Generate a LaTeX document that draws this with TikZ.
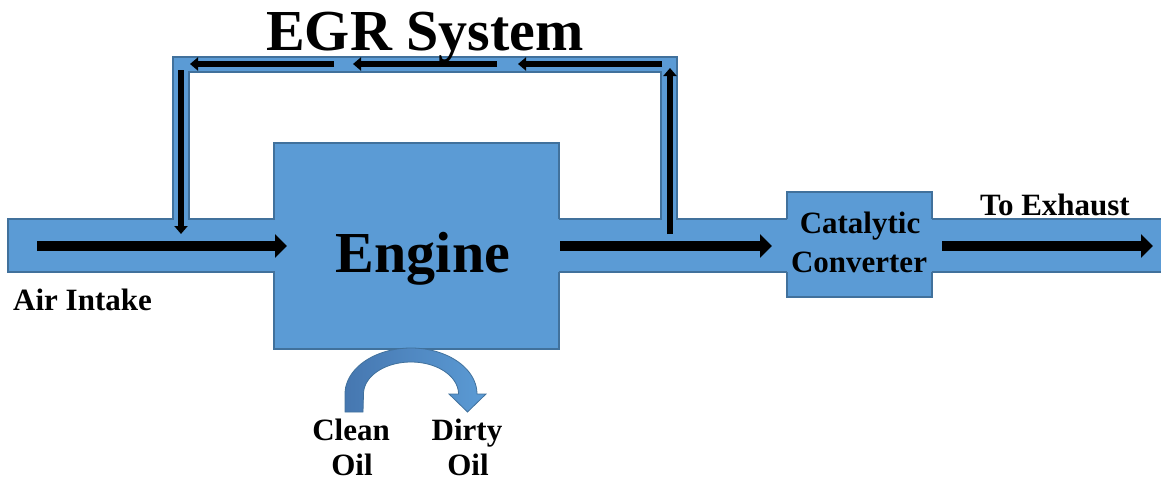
\documentclass[tikz,border=0pt]{standalone}
\usepackage{fontspec}
\setmainfont{Liberation Serif}
\usetikzlibrary{arrows.meta}
\definecolor{pipefill}{HTML}{5B9BD5}
\definecolor{pipeedge}{HTML}{41719C}
\definecolor{oildark}{HTML}{4677B0}
\tikzset{
  flowarrow/.style={line width=10pt, -{Triangle[length=12pt,width=23pt]}},
  egrarrow/.style={line width=6.5pt, -{Triangle[length=8pt,width=13pt]}},
  pipeedgeline/.style={draw=pipeedge, line width=1.6pt},
  boxstyle/.style={draw=pipeedge, line width=2pt, fill=pipefill, inner sep=0pt, outer sep=0pt},
  bigtxt/.style={font=\fontsize{58}{60}\selectfont\bfseries, inner sep=0pt, anchor=base},
  smalltxt/.style={font=\fontsize{31}{33}\selectfont\bfseries, inner sep=0pt, anchor=base},
}
\begin{document}
\begin{tikzpicture}[x=1pt,y=-1pt]
\useasboundingbox (0,0) rectangle (1161,480);
% boxes
\node[boxstyle, minimum width=285pt, minimum height=206pt] (engine) at (416.5,246) {};
\node[boxstyle, minimum width=145pt, minimum height=105pt] (catbox) at (859.5,244.5) {};
% intake pipe
\fill[pipefill] (8,219) rectangle (295,272);
\draw[pipeedgeline] (275,219) -- (8,219) -- (8,272) -- (275,272);
% exhaust pipe to catalytic converter
\fill[pipefill] (545,219) rectangle (797,272);
\draw[pipeedgeline] (559,219) -- (787,219);
\draw[pipeedgeline] (559,272) -- (787,272);
% tail pipe
\fill[pipefill] (924,219) rectangle (1161,272);
\draw[pipeedgeline] (932,219) -- (1161,219);
\draw[pipeedgeline] (932,272) -- (1161,272);
% EGR loop
\fill[pipefill] (173,221) -- (173,57) -- (677,57) -- (677,221) -- (661,221) -- (661,72) -- (189,72) -- (189,221) -- cycle;
\draw[pipeedgeline] (173,220) -- (173,57) -- (677,57) -- (677,220);
\draw[pipeedgeline] (661,220) -- (661,72) -- (189,72) -- (189,220);
% arrow end points
\coordinate (inA) at (37,246);   \coordinate (inB) at (287,246);
\coordinate (exA) at (560,246);  \coordinate (exB) at (772,246);
\coordinate (tlA) at (942,246);  \coordinate (tlB) at (1153,246);
\coordinate (lvA) at (181,70);   \coordinate (lvB) at (181,234);
\coordinate (rvA) at (670,234);  \coordinate (rvB) at (670,68);
\coordinate (h1A) at (334,64);   \coordinate (h1B) at (190,64);
\coordinate (h2A) at (497,64);   \coordinate (h2B) at (353,64);
\coordinate (h3A) at (662,64);   \coordinate (h3B) at (518,64);
\draw[flowarrow] (inA) -- (inB);
\draw[flowarrow] (exA) -- (exB);
\draw[flowarrow] (tlA) -- (tlB);
\draw[egrarrow] (lvA) -- (lvB);
\draw[egrarrow] (rvA) -- (rvB);
\draw[egrarrow] (h1A) -- (h1B);
\draw[egrarrow] (h2A) -- (h2B);
\draw[egrarrow] (h3A) -- (h3B);
% oil curved arrow
\shade[left color=oildark, right color=pipefill, draw=pipeedge, line width=0.8pt]
  (345,412) -- (345,394)
  -- plot[domain=180:0, samples=72] ({411+66*cos(\x)},{394-46*sin(\x)})
  -- (486,394) -- (467.5,412) -- (449,394)
  -- plot[domain=0:180, samples=72] ({411+47.5*cos(\x)},{394-32*sin(\x)})
  -- (363,412) -- cycle;
% texts
\node[bigtxt] (egrtitle) at (425,50) {EGR System};
\node[bigtxt] (engtxt) at (423,272) {Engine};
\node[smalltxt, anchor=base west] (air) at (13,310) {Air Intake};
\node[smalltxt] (exh) at (1055,215) {To Exhaust};
\node[smalltxt] (cat1) at (860,233) {Catalytic};
\node[smalltxt] (cat2) at (859,272) {Converter};
\node[smalltxt] (clean) at (351,440) {Clean};
\node[smalltxt] (oil1) at (352,475) {Oil};
\node[smalltxt] (dirty) at (467,440) {Dirty};
\node[smalltxt] (oil2) at (468,475) {Oil};
\end{tikzpicture}
\end{document}
